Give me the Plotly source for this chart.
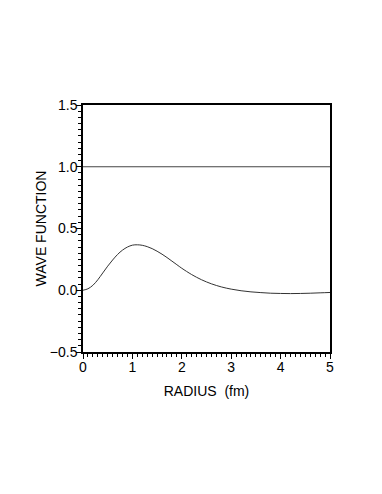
import plotly.graph_objects as go

# radial wave function
radius = [0.0, 0.1, 0.2, 0.3, 0.4, 0.5, 0.6, 0.7, 0.8, 0.9, 1.0, 1.1, 1.2, 1.3,
          1.4, 1.5, 1.6, 1.7, 1.8, 1.9, 2.0, 2.2, 2.4, 2.6, 2.8, 3.0, 3.2, 3.4,
          3.6, 3.8, 4.0, 4.2, 4.4, 4.6, 4.8, 5.0]
wave = [0.0, 0.012, 0.04, 0.085, 0.14, 0.195, 0.245, 0.29, 0.325, 0.35, 0.365, 0.368, 0.364, 0.353,
        0.337, 0.316, 0.292, 0.265, 0.236, 0.207, 0.178, 0.127, 0.085, 0.052, 0.027, 0.009, -0.004, -0.013,
        -0.019, -0.024, -0.026, -0.027, -0.026, -0.024, -0.021, -0.018]

# reference level
ref_x = [0, 5]
ref_y = [1.0, 1.0]

fig = go.Figure()
fig.add_trace(go.Scatter(x=ref_x, y=ref_y, mode='lines',
                         line=dict(color='#444', width=1), showlegend=False))
fig.add_trace(go.Scatter(x=radius, y=wave, mode='lines', line_shape='spline',
                         line=dict(color='#333', width=1), showlegend=False))

axis_common = dict(showgrid=False, zeroline=False, showline=True, linecolor='black',
                   linewidth=1.5, mirror=True, ticks='outside', ticklen=5,
                   tickwidth=1, tickcolor='black',
                   tickfont=dict(size=14, color='black'))

fig.update_xaxes(range=[0, 5], dtick=1, tick0=0, ticklabelstandoff=-4,
                 minor=dict(dtick=0.1, ticks='outside', ticklen=3, tickcolor='black'),
                 title=dict(text='RADIUS  (fm)', font=dict(size=14, color='black'), standoff=13),
                 **axis_common)
fig.update_yaxes(range=[-0.5, 1.5], dtick=0.5, tick0=0, tickformat='.1f', ticklabelstandoff=-4,
                 minor=dict(dtick=0.05, ticks='outside', ticklen=3, tickcolor='black'),
                 title=dict(text='WAVE FUNCTION', font=dict(size=14, color='black'), standoff=0),
                 **axis_common)

# page body adds an 8px margin, so the figure is drawn a bit smaller
fig.update_layout(width=374, height=486, plot_bgcolor='white', paper_bgcolor='white',
                  font=dict(family='Liberation Sans, Arial, sans-serif'),
                  margin=dict(l=75, r=52, t=97, b=142))

fig.write_html('out.html')
